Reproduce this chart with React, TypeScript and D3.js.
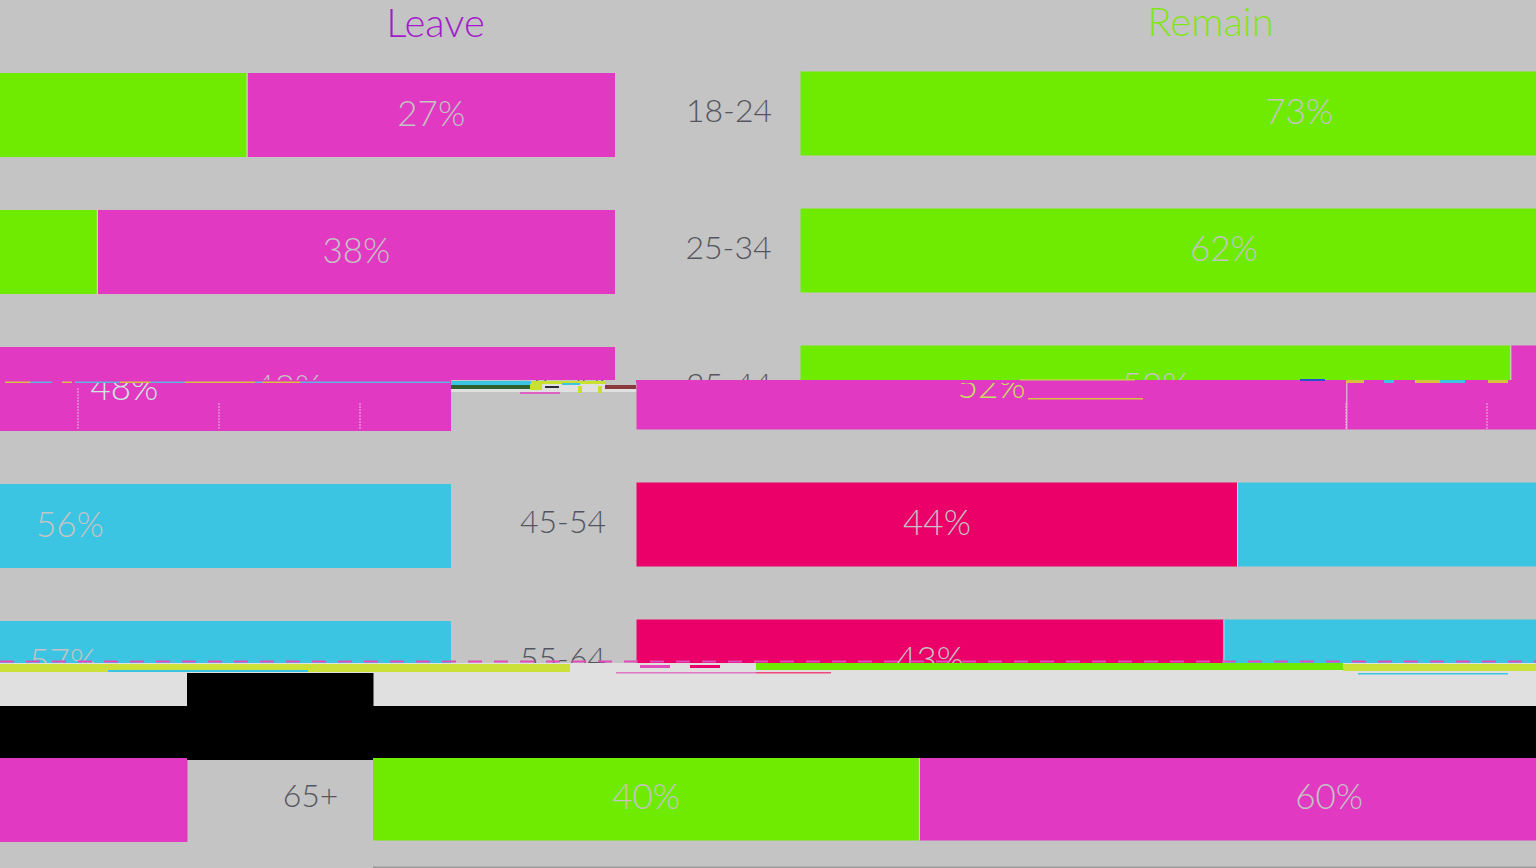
import React from "react";
import * as d3 from "d3";

const ages = ["18-24", "25-34", "35-44", "45-54", "55-64", "65+"];
const leavePct = [27, 38, 48, 56, 57, 60];
const remainPct = [73, 62, 52, 44, 43, 40];
const headers = ["Leave", "Remain"];

const MAGENTA = "#E239C3";
const GREEN = "#6EEB00";
const BLUE = "#3CC4E3";
const PINK = "#EB0069";
const BG = "#C4C4C4";
const FONT = "Lato, 'Open Sans', sans-serif";

const W = 1536;
const H = 868;
const leftEdge = 615;
const rightEdge = 800.5;

const leaveColors = [MAGENTA, MAGENTA, MAGENTA, BLUE, BLUE, MAGENTA];
const remainTop = [GREEN, GREEN, GREEN, PINK, PINK, GREEN];
const remainMiddle = [GREEN, GREEN, MAGENTA, PINK, PINK, GREEN];
const ageX = [729, 728.5, 729, 727, 727, 738];

const bands = [
  { id: "a", y0: 0, y1: 380, shift: 0, remain: remainTop, tint: [BG, BG] },
  { id: "b", y0: 380, y1: 663, shift: -164, remain: remainMiddle, tint: ["#CFE8E0", "#C8E060"] },
  { id: "c", y0: 750, y1: 868, shift: -427.5, remain: remainTop, tint: [BG, BG] },
];

const row = d3.scaleBand<string>().domain(ages).range([73, 842]).paddingInner(53 / 137).paddingOuter(0).align(0);
const wL = d3.scaleLinear().domain([0, 100]).range([0, 1361]);
const wR = d3.scaleLinear().domain([0, 100]).range([0, 1366]);

function Chart({ shift, remain, tint }: { shift: number; remain: string[]; tint: string[] }) {
  const bh = row.bandwidth();
  const labelProps = { textAnchor: "middle" as const, fontSize: 35, fontWeight: 300, fontFamily: FONT, dy: "0.36em" };
  return (
    <g transform={`translate(${shift},0)`}>
      <text x={435.5} y={37} textAnchor="middle" fontSize={40} fontWeight={300} fontFamily={FONT} fill="#A21CCB">{headers[0]}</text>
      <text x={1210.5} y={36} textAnchor="middle" fontSize={40} fontWeight={300} fontFamily={FONT} fill="#84E41A">{headers[1]}</text>
      {ages.map((a, i) => {
        const y = row(a)!;
        const ry = y - 1.5;
        const lw = wL(leavePct[i]);
        const rw = wR(remainPct[i]);
        const lw2 = wR(leavePct[i]);
        const fillTxt = i === 2 ? tint : [BG, BG];
        return (
          <g key={a}>
            <rect x={leftEdge - lw - wL(remainPct[i])} y={y} width={wL(remainPct[i])} height={bh} fill={remain[i]} />
            <rect x={leftEdge - lw} y={y} width={lw} height={bh} fill={leaveColors[i]} />
            <rect x={leftEdge - lw - 1} y={y} width={1} height={bh} fill="#DADADA" />
            <rect x={rightEdge} y={ry} width={rw} height={bh} fill={remain[i]} />
            <rect x={rightEdge + rw} y={ry} width={lw2} height={bh} fill={leaveColors[i]} />
            <rect x={rightEdge + rw - 0.5} y={ry} width={1} height={bh} fill="#DADADA" />
            <text {...labelProps} x={leftEdge - lw / 2} y={y + bh / 2 - 2} fill={fillTxt[0]}>{leavePct[i]}%</text>
            <text {...labelProps} x={rightEdge + rw / 2} y={ry + bh / 2 - 2} fill={fillTxt[1]}>{remainPct[i]}%</text>
            <text {...labelProps} x={rightEdge + rw + lw2 / 2} y={ry + bh / 2 - 2} fill={BG}>{leavePct[i]}%</text>
            <text {...labelProps} fontSize={32} x={ageX[i]} y={ry + bh / 2 - 3} fill="#555560">{a}</text>
          </g>
        );
      })}
    </g>
  );
}

export default function App() {
  const dotted = [78, 219, 360, 1346, 1487];
  const yellowDashes = [[5, 30], [30, 52], [62, 72], [75, 120], [120, 150], [150, 185], [185, 255], [255, 262], [262, 300], [300, 450]];
  return (
    <svg width={W} height={H} viewBox={`0 0 ${W} ${H}`} style={{ position: "absolute", left: 0, top: 0, display: "block" }}>
      <defs>
        {bands.map((b) => (
          <clipPath id={`clip-${b.id}`} key={b.id}>
            <rect x={0} y={b.y0} width={W} height={b.y1 - b.y0} />
          </clipPath>
        ))}
      </defs>
      <rect width={W} height={H} fill={BG} />
      {bands.map((b) => (
        <g key={b.id} clipPath={`url(#clip-${b.id})`}>
          <Chart shift={b.shift} remain={b.remain} tint={b.tint} />
        </g>
      ))}

      {/* torn rows of the picture */}
      <rect x={0} y={380} width={451} height={3} fill={MAGENTA} />
      <rect x={636} y={380} width={900} height={3} fill={MAGENTA} />
      <rect x={451} y={392} width={185} height={8} fill={BG} />
      <rect x={451} y={381} width={80} height={4} fill={BLUE} />
      <rect x={451} y={385} width={80} height={4} fill="#2F5F2F" />
      <rect x={605} y={385} width={31} height={4} fill="#8A3A3A" />
      <rect x={531} y={381} width={74} height={11} fill="#E0E0E0" />
      <rect x={451} y={389} width={185} height={3} fill="#E0E0E0" />
      <rect x={531} y={381} width={74} height={3} fill="#C8E030" />
      <rect x={530} y={384} width={12} height={6} fill="#C8E030" />
      <rect x={545} y={386} width={14} height={2} fill="#2A2A3A" />
      <rect x={562} y={383} width={18} height={2} fill={BLUE} />
      <rect x={578} y={386} width={4} height={7} fill="#C8E030" />
      <rect x={598} y={386} width={4} height={7} fill="#C8E030" />
      <rect x={520} y={392} width={40} height={2} fill={MAGENTA} opacity={0.7} />
      {yellowDashes.map(([a, b], i) => (
        <rect key={i} x={a} y={381.5} width={b - a} height={1.5} fill={i % 2 ? "#5AB8E0" : "#D8C040"} />
      ))}
      <rect x={1020} y={379} width={115} height={1.5} fill="#B8D840" />
      <rect x={1300} y={379} width={25} height={2} fill="#2255CC" />
      <rect x={1346} y={380} width={18} height={3} fill="#D8C040" />
      <rect x={1384} y={380} width={10} height={3} fill={BLUE} />
      <rect x={1415} y={380} width={25} height={3} fill="#D8C040" />
      <rect x={1440} y={380} width={25} height={3} fill={BLUE} />
      <rect x={1488} y={380} width={20} height={3} fill="#D8C040" />
      <rect x={1028} y={398} width={115} height={1.5} fill="#D8C040" />
      {dotted.map((x) => (
        <line key={x} x1={x} x2={x} y1={x === 78 ? 388 : 403} y2={430} stroke="#E8B8E0" strokeWidth={1} strokeDasharray="2 1" />
      ))}

      <line x1={0} x2={W} y1={661.5} y2={661.5} stroke="#E04CB8" strokeWidth={2} strokeDasharray="14 12" />
      <rect x={0} y={663} width={W} height={43} fill="#E0E0E0" />
      <rect x={0} y={664} width={570} height={8} fill="#CCE03A" />
      <rect x={108} y={670} width={200} height={2} fill={BLUE} />
      <rect x={756} y={663} width={587} height={7} fill={GREEN} />
      <rect x={1343} y={664} width={193} height={7} fill="#CCE03A" />
      <rect x={640} y={665} width={30} height={3} fill="#E04CB8" />
      <rect x={690} y={665} width={30} height={3} fill={PINK} />
      <rect x={616} y={672} width={140} height={1.5} fill="#E04CB8" opacity={0.7} />
      <rect x={756} y={672} width={75} height={1.5} fill="#F0487C" />
      <rect x={1358} y={673} width={150} height={1.5} fill={BLUE} />

      <rect x={187} y={673} width={186.5} height={33} fill="#000" />
      <rect x={0} y={706} width={W} height={52} fill="#000" />
      <rect x={187} y={758} width={186} height={2} fill="#000" />

      <rect x={373} y={866.5} width={W - 373} height={1.5} fill="#9A9A9A" />
    </svg>
  );
}
